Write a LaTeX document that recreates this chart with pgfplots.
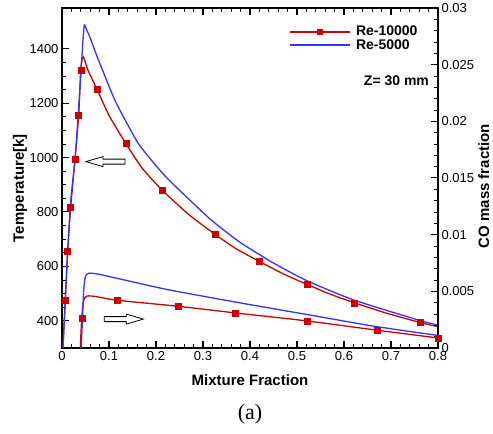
\documentclass[border=0pt]{standalone}
\usepackage{fontspec}
\setmainfont{Liberation Sans}
\newfontfamily\serifa{Liberation Serif}
\usepackage{pgfplots}
\pgfplotsset{compat=1.18}
\usetikzlibrary{calc}

\definecolor{rered}{RGB}{204,0,0}
\definecolor{reblue}{RGB}{51,51,255}

\pgfplotsset{
  common/.style={
    scale only axis, width=376pt, height=340pt,
    xmin=0, xmax=0.8,
    tick align=inside,
    axis line style={line width=1.6pt},
    major tick length=7pt, minor tick length=4pt,
    every major tick/.style={line width=1.1pt, black},
    every minor tick/.style={line width=0.8pt, black},
    /pgf/number format/assume math mode=true,
    /pgf/number format/1000 sep={},
    tick label style={font=\fontsize{13}{13}\selectfont},
    label style={font=\fontsize{15}{15}\selectfont\bfseries},
  },
}

\begin{document}
\begin{tikzpicture}
\begin{axis}[common, name=main,
  ymin=300, ymax=1550,
  xtick={0,0.1,0.2,0.3,0.4,0.5,0.6,0.7,0.8}, minor x tick num=4,
  ytick={400,600,800,1000,1200,1400}, minor y tick num=3,
  xtick pos=both, ytick pos=left,
  xticklabel style={/pgf/number format/fixed, /pgf/number format/precision=1},
  xlabel={Mixture Fraction},
  ylabel={Temperature[k]},
  xlabel style={at={(axis description cs:0.5,-0.094)}, anchor=center},
  ylabel style={at={(axis description cs:-0.112,0.47)}, anchor=center},
  legend style={at={(axis description cs:0.604,0.95)}, anchor=north west,
    draw=none, fill=none, inner sep=0pt,
    font=\fontsize{14}{15}\selectfont\bfseries,
    nodes={inner xsep=5pt, inner ysep=1pt}, cells={anchor=west}},
]
\addlegendimage{legend image code/.code={
  \draw[draw=rered, line width=1.7pt] (0pt,0pt) -- (60pt,0pt);
  \fill[fill=rered, draw=none] (27pt,-3pt) rectangle (33pt,3pt);}}
\addlegendentry{Re-10000}
\addlegendimage{legend image code/.code={
  \draw[draw=reblue, line width=1.5pt] (0pt,0pt) -- (60pt,0pt);}}
\addlegendentry{Re-5000}

% Re-10000 temperature
\addplot[rered, line width=1.3pt, smooth, tension=0.3] coordinates {
 (0.002,300) (0.007,474) (0.012,655) (0.0185,819) (0.0277,993) (0.0355,1157)
 (0.0398,1322) (0.0425,1360) (0.0454,1370) (0.050,1348) (0.056,1318) (0.074,1253)
 (0.100,1155) (0.136,1051) (0.170,962) (0.213,880) (0.270,790) (0.326,717)
 (0.370,665) (0.420,618) (0.470,573) (0.522,533) (0.570,498) (0.622,466)
 (0.690,428) (0.763,393) (0.800,378)};
% Re-5000 temperature
\addplot[reblue, line width=1.3pt, smooth, tension=0.3] coordinates {
 (0.002,300) (0.007,480) (0.013,680) (0.018,830) (0.028,1000) (0.035,1170)
 (0.041,1330) (0.045,1440) (0.0476,1488) (0.0526,1469) (0.060,1440) (0.075,1370)
 (0.113,1209) (0.163,1050) (0.222,927) (0.315,774) (0.379,688) (0.450,612)
 (0.521,547) (0.621,476) (0.763,400) (0.800,384)};
% Re-10000 markers
\addplot[only marks, mark=square*, mark size=3pt, rered] coordinates {
 (0.007,474) (0.012,655) (0.0185,819) (0.0277,993) (0.0355,1157) (0.0398,1322)
 (0.074,1253) (0.136,1051) (0.213,880) (0.326,717) (0.420,618) (0.522,533)
 (0.622,466) (0.763,393)};

\node[anchor=west, font=\fontsize{14}{14}\selectfont\bfseries] at (axis cs:0.635,1282) {Z= 30 mm};

\draw[line width=0.8pt, fill=white] (axis cs:0.051,985) -- ++(17pt,5pt) -- ++(0pt,-2.5pt)
  -- ++(22pt,0pt) -- ++(0pt,-5pt) -- ++(-22pt,0pt) -- ++(0pt,-2.5pt) -- cycle;
\draw[line width=0.8pt, fill=white] (axis cs:0.173,406) -- ++(-17pt,5pt) -- ++(0pt,-2.5pt)
  -- ++(-22pt,0pt) -- ++(0pt,-5pt) -- ++(22pt,0pt) -- ++(0pt,-2.5pt) -- cycle;
\end{axis}

\begin{axis}[common,
  ymin=0, ymax=0.03,
  axis x line=none, axis y line*=right,
  ytick={0,0.005,0.01,0.015,0.02,0.025,0.03}, minor y tick num=4,
  scaled y ticks=false,
  yticklabel style={/pgf/number format/fixed, /pgf/number format/precision=3},
  ylabel={CO mass fraction},
  ylabel style={at={(axis description cs:1.122,0.476)}, anchor=center},
]
% Re-10000 CO
\addplot[rered, line width=1.3pt, smooth, tension=0.3] coordinates {
 (0.039,0) (0.040,0.0010) (0.042,0.00265) (0.045,0.0040) (0.048,0.0044)
 (0.054,0.00459) (0.070,0.00455) (0.1165,0.00421) (0.2466,0.00368)
 (0.3687,0.00309) (0.522,0.00238) (0.671,0.00156) (0.800,0.00088)};
% Re-5000 CO
\addplot[reblue, line width=1.3pt, smooth, tension=0.3] coordinates {
 (0.041,0) (0.043,0.0020) (0.046,0.0050) (0.049,0.0062) (0.053,0.0065)
 (0.058,0.0066) (0.081,0.00648) (0.223,0.00516) (0.3795,0.00397)
 (0.521,0.00295) (0.663,0.00192) (0.800,0.0011)};
\addplot[only marks, mark=square*, mark size=3pt, rered] coordinates {
 (0.042,0.00265) (0.1165,0.00421) (0.2466,0.00368) (0.3687,0.00309)
 (0.522,0.00238) (0.671,0.00156) (0.800,0.00088)};
\end{axis}

\node[font=\fontsize{22}{22}\serifa] at ($(main.south)+(0pt,-66pt)$) {(a)};
\path ($(main.south west)+(-62pt,-86pt)$) rectangle ($(main.north east)+(55pt,7pt)$);
\end{tikzpicture}
\end{document}
